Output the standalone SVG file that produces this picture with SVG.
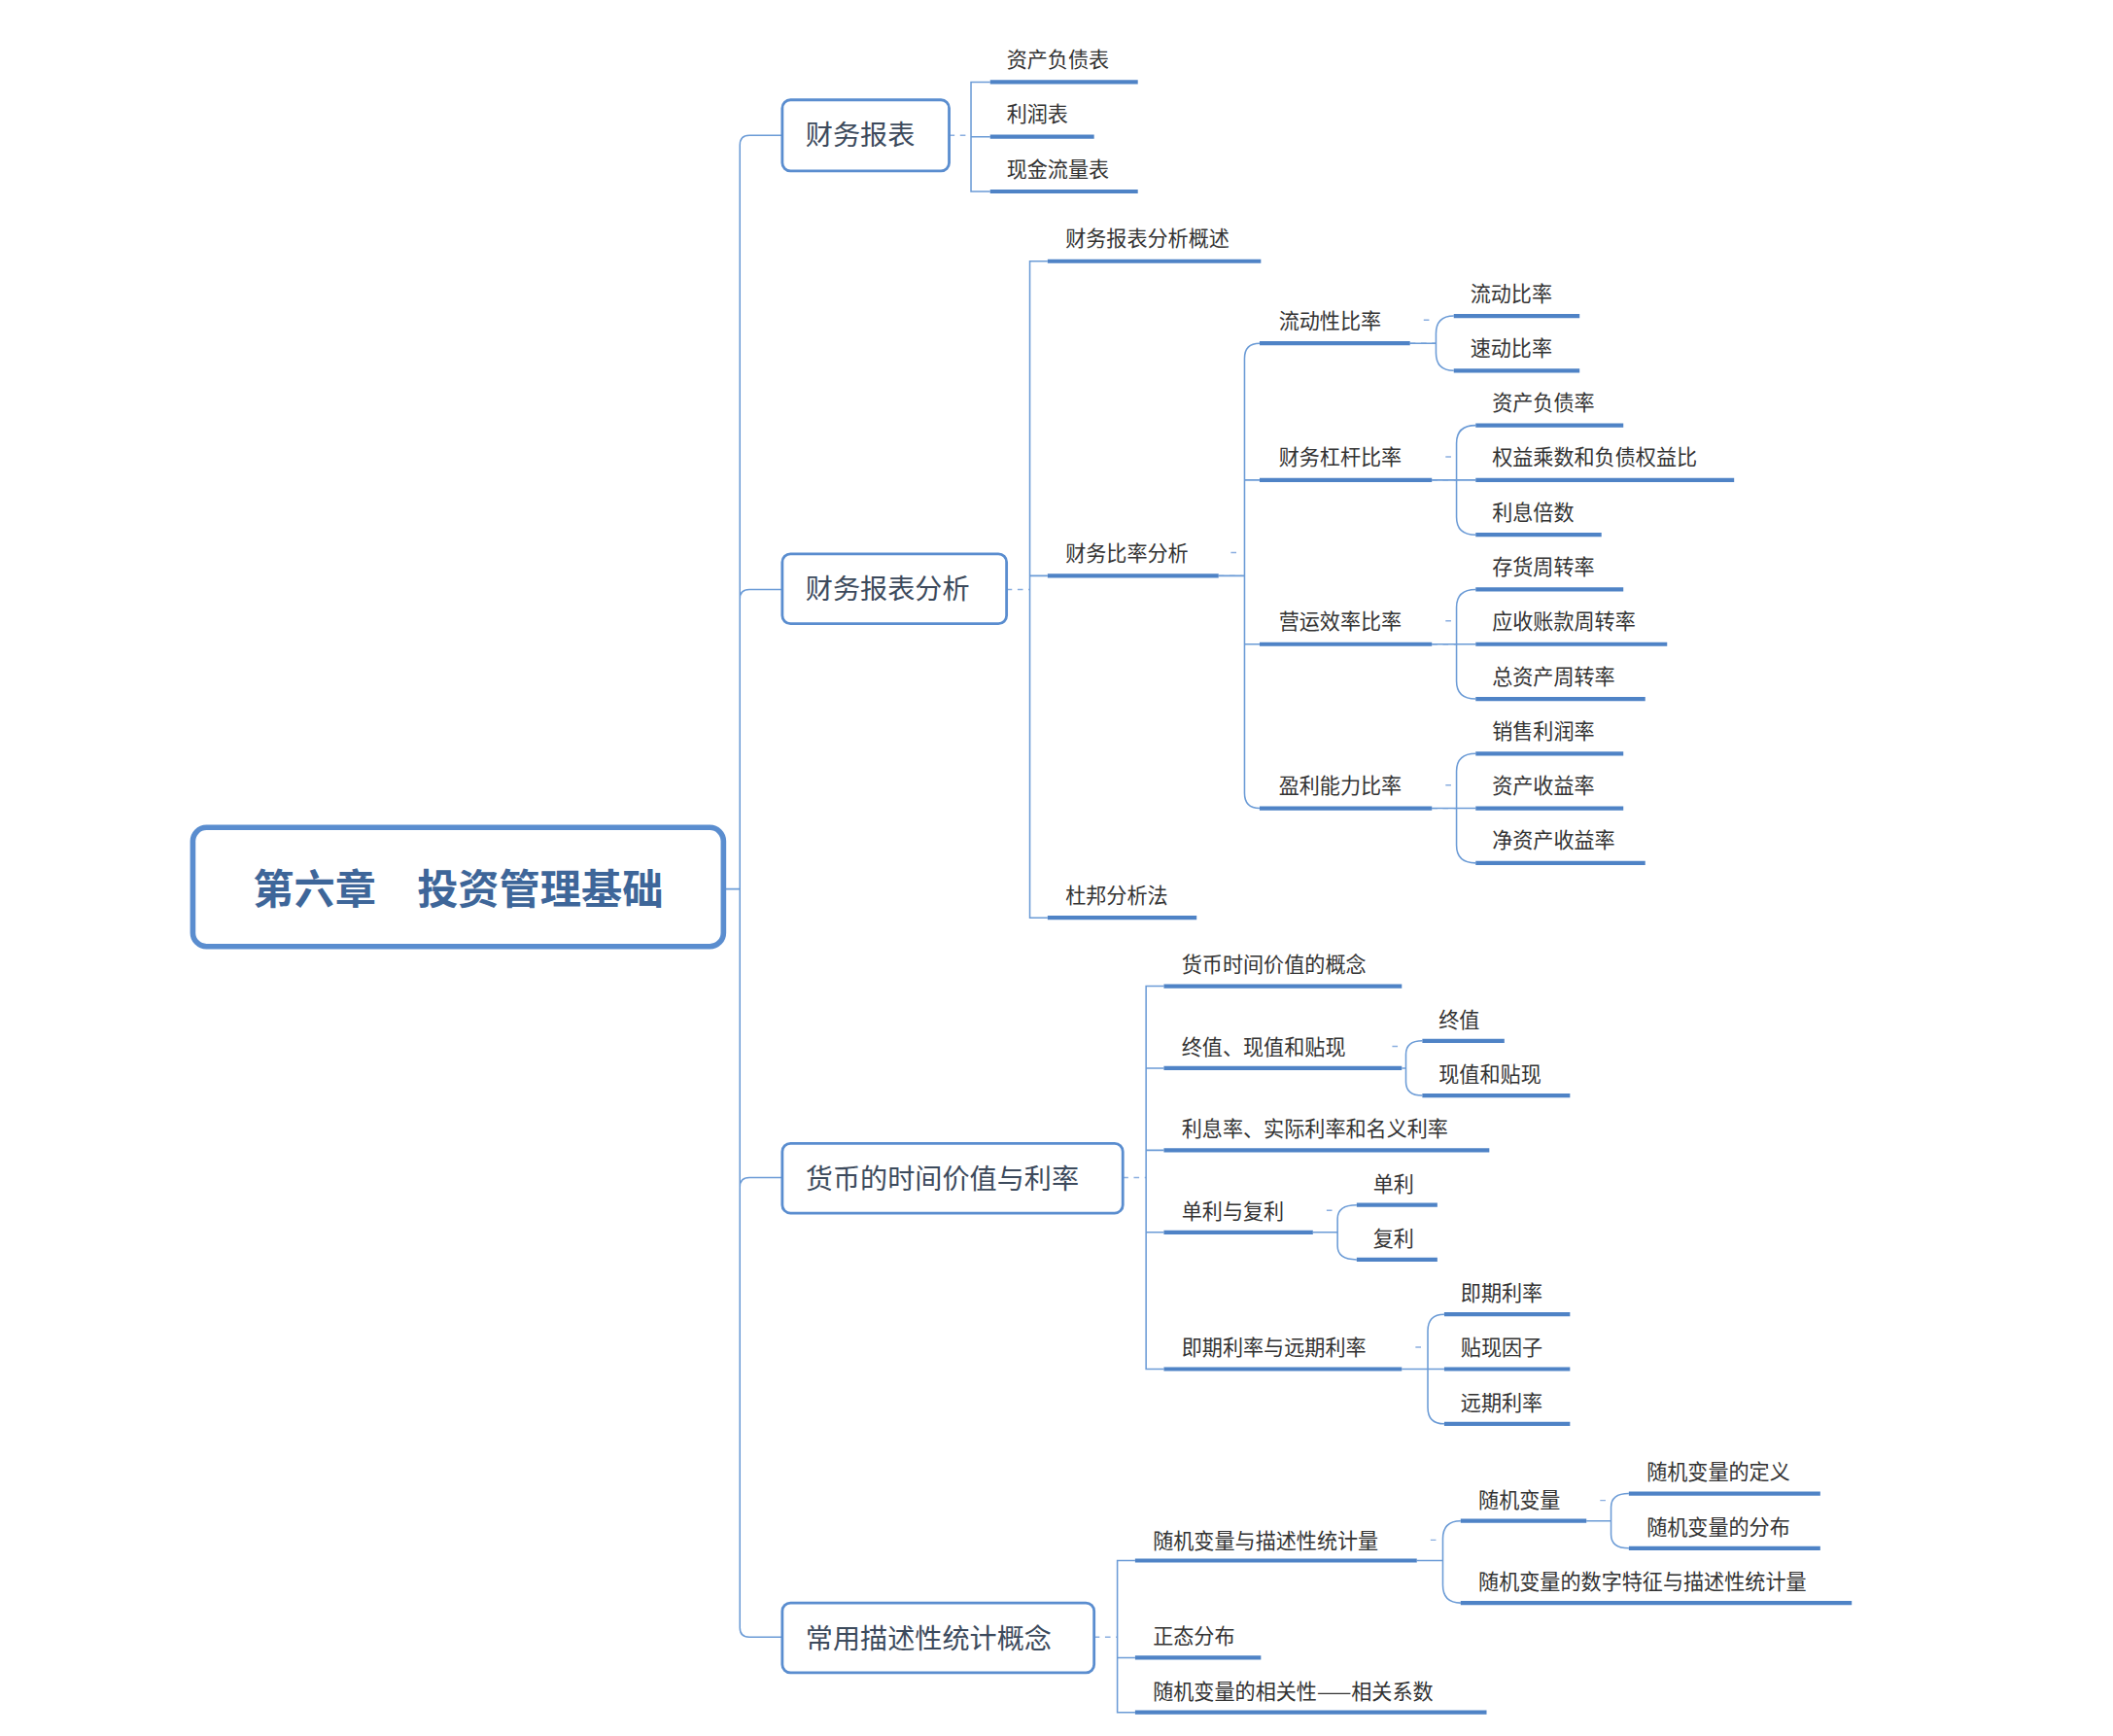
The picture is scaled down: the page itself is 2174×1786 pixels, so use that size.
<svg xmlns="http://www.w3.org/2000/svg" width="2174" height="1786" viewBox="0 0 2174 1786">
<style>
.c{fill:none;stroke:#6b9bd6;stroke-width:1.1}
.d{fill:none;stroke:#8aaee0;stroke-width:1;stroke-dasharray:4 4}
.u{stroke:#4f83c6;stroke-width:3}
.t{font-family:"Noto Sans CJK SC","Liberation Sans",sans-serif;font-size:15px;fill:#333}
.b{fill:#fff;stroke:#5a8dcf;stroke-width:2}
.bt{font-family:"Noto Sans CJK SC","Liberation Sans",sans-serif;font-size:20px;fill:#3c4a5c}
</style>
<rect width="2174" height="1786" fill="#fff"/>
<g transform="scale(1.4071)">
<g id="connectors">
<path class="c" d="M572,99 H548 Q541,99 541,106 V1190 Q541,1197 548,1197 H572 M572,431 H548 Q541,431 541,438 M572,861 H548 Q541,861 541,868 M529,650 H541"/>
<path class="d" d="M694,99 H710 M736,431 H753 M821,861 H838 M800,1197 H817 M891,421 H908 M900,404 h4 M1031,251 H1050 M1041,234 h4 M1047,351 H1065 M1047,471 H1065 M1047,591 H1065 M1057,334 h4 M1057,454 h4 M1057,574 h4 M1018,765 h4 M970,885 h4 M1035,985 h4 M1046,1126 h4 M1170,1097 h4"/>
<path class="c" d="M724,60 H710 V140 H724 M710,100 H724"/>
<path class="c" d="M766,191 H753 V671 H766 M753,421 H766"/>
<path class="c" d="M921,251 Q910,251 910,262 V580 Q910,591 921,591 M910,351 Q910,351 921,351 M910,471 H921 M891,421 H910"/>
<path class="c" d="M1031,251 H1050 M1063,231 Q1050,231 1050,244 V258 Q1050,271 1063,271"/>
<path class="c" d="M1047,351 H1079 M1079,311 Q1065,311 1065,324 V378 Q1065,391 1079,391"/>
<path class="c" d="M1047,471 H1079 M1079,431 Q1065,431 1065,444 V498 Q1065,511 1079,511"/>
<path class="c" d="M1047,591 H1079 M1079,551 Q1065,551 1065,564 V618 Q1065,631 1079,631"/>
<path class="c" d="M851,721 H838 V1001 H851 M838,781 H851 M838,841 H851 M838,901 H851"/>
<path class="c" d="M1025,781 H1028 M1040,761 Q1028,761 1028,771 V791 Q1028,801 1040,801"/>
<path class="c" d="M960,901 H978 M992,881 Q978,881 978,891 V911 Q978,921 992,921"/>
<path class="c" d="M1025,1001 H1056 M1056,961 Q1044,961 1044,973 V1029 Q1044,1041 1056,1041"/>
<path class="c" d="M830,1141 H817 V1252 H830 M817,1212 H830"/>
<path class="c" d="M1036,1141 H1055 M1068,1112 Q1055,1112 1055,1125 V1159 Q1055,1172 1068,1172"/>
<path class="c" d="M1160,1112 H1178 M1191,1092 Q1178,1092 1178,1102 V1122 Q1178,1132 1191,1132"/>
</g>
<g id="root"><rect x="141" y="605" width="388" height="87" rx="10" fill="#fff" stroke="#5a8dcf" stroke-width="4"/><text x="335" y="661" text-anchor="middle" font-family="'Noto Sans CJK SC','Liberation Sans',sans-serif" font-size="30" font-weight="bold" fill="#3e6699">第六章　投资管理基础</text></g>
<g id="n1"><rect class="b" x="572" y="73" width="122" height="52" rx="6"/><text class="bt" x="589" y="106">财务报表</text></g>
<g id="n2"><rect class="b" x="572" y="405" width="164" height="51" rx="6"/><text class="bt" x="589" y="438">财务报表分析</text></g>
<g id="n3"><rect class="b" x="572" y="836" width="249" height="51" rx="6"/><text class="bt" x="589" y="869">货币的时间价值与利率</text></g>
<g id="n4"><rect class="b" x="572" y="1172" width="228" height="51" rx="6"/><text class="bt" x="589" y="1205">常用描述性统计概念</text></g>
<g id="leaves">
<g id="l1"><line class="u" x1="724" y1="60" x2="832" y2="60"/><text class="t" x="736" y="49">资产负债表</text></g>
<g id="l2"><line class="u" x1="724" y1="100" x2="800" y2="100"/><text class="t" x="736" y="89">利润表</text></g>
<g id="l3"><line class="u" x1="724" y1="140" x2="832" y2="140"/><text class="t" x="736" y="129">现金流量表</text></g>
<g id="l4"><line class="u" x1="766" y1="191" x2="922" y2="191"/><text class="t" x="779" y="180">财务报表分析概述</text></g>
<g id="l5"><line class="u" x1="766" y1="421" x2="891" y2="421"/><text class="t" x="779" y="410">财务比率分析</text></g>
<g id="l6"><line class="u" x1="766" y1="671" x2="875" y2="671"/><text class="t" x="779" y="660">杜邦分析法</text></g>
<g id="l7"><line class="u" x1="921" y1="251" x2="1031" y2="251"/><text class="t" x="935" y="240">流动性比率</text></g>
<g id="l8"><line class="u" x1="921" y1="351" x2="1047" y2="351"/><text class="t" x="935" y="340">财务杠杆比率</text></g>
<g id="l9"><line class="u" x1="921" y1="471" x2="1047" y2="471"/><text class="t" x="935" y="460">营运效率比率</text></g>
<g id="l10"><line class="u" x1="921" y1="591" x2="1047" y2="591"/><text class="t" x="935" y="580">盈利能力比率</text></g>
<g id="l11"><line class="u" x1="1063" y1="231" x2="1155" y2="231"/><text class="t" x="1075" y="220">流动比率</text></g>
<g id="l12"><line class="u" x1="1063" y1="271" x2="1155" y2="271"/><text class="t" x="1075" y="260">速动比率</text></g>
<g id="l13"><line class="u" x1="1079" y1="311" x2="1187" y2="311"/><text class="t" x="1091" y="300">资产负债率</text></g>
<g id="l14"><line class="u" x1="1079" y1="351" x2="1268" y2="351"/><text class="t" x="1091" y="340">权益乘数和负债权益比</text></g>
<g id="l15"><line class="u" x1="1079" y1="391" x2="1171" y2="391"/><text class="t" x="1091" y="380">利息倍数</text></g>
<g id="l16"><line class="u" x1="1079" y1="431" x2="1187" y2="431"/><text class="t" x="1091" y="420">存货周转率</text></g>
<g id="l17"><line class="u" x1="1079" y1="471" x2="1219" y2="471"/><text class="t" x="1091" y="460">应收账款周转率</text></g>
<g id="l18"><line class="u" x1="1079" y1="511" x2="1203" y2="511"/><text class="t" x="1091" y="500">总资产周转率</text></g>
<g id="l19"><line class="u" x1="1079" y1="551" x2="1187" y2="551"/><text class="t" x="1091" y="540">销售利润率</text></g>
<g id="l20"><line class="u" x1="1079" y1="591" x2="1187" y2="591"/><text class="t" x="1091" y="580">资产收益率</text></g>
<g id="l21"><line class="u" x1="1079" y1="631" x2="1203" y2="631"/><text class="t" x="1091" y="620">净资产收益率</text></g>
<g id="l22"><line class="u" x1="851" y1="721" x2="1025" y2="721"/><text class="t" x="864" y="711">货币时间价值的概念</text></g>
<g id="l23"><line class="u" x1="851" y1="781" x2="1025" y2="781"/><text class="t" x="864" y="771">终值、现值和贴现</text></g>
<g id="l24"><line class="u" x1="1040" y1="761" x2="1100" y2="761"/><text class="t" x="1052" y="751">终值</text></g>
<g id="l25"><line class="u" x1="1040" y1="801" x2="1148" y2="801"/><text class="t" x="1052" y="791">现值和贴现</text></g>
<g id="l26"><line class="u" x1="851" y1="841" x2="1089" y2="841"/><text class="t" x="864" y="831">利息率、实际利率和名义利率</text></g>
<g id="l27"><line class="u" x1="851" y1="901" x2="960" y2="901"/><text class="t" x="864" y="891">单利与复利</text></g>
<g id="l28"><line class="u" x1="992" y1="881" x2="1051" y2="881"/><text class="t" x="1004" y="871">单利</text></g>
<g id="l29"><line class="u" x1="992" y1="921" x2="1051" y2="921"/><text class="t" x="1004" y="911">复利</text></g>
<g id="l30"><line class="u" x1="851" y1="1001" x2="1025" y2="1001"/><text class="t" x="864" y="991">即期利率与远期利率</text></g>
<g id="l31"><line class="u" x1="1056" y1="961" x2="1148" y2="961"/><text class="t" x="1068" y="951">即期利率</text></g>
<g id="l32"><line class="u" x1="1056" y1="1001" x2="1148" y2="1001"/><text class="t" x="1068" y="991">贴现因子</text></g>
<g id="l33"><line class="u" x1="1056" y1="1041" x2="1148" y2="1041"/><text class="t" x="1068" y="1031">远期利率</text></g>
<g id="l34"><line class="u" x1="830" y1="1141" x2="1036" y2="1141"/><text class="t" x="843" y="1132">随机变量与描述性统计量</text></g>
<g id="l35"><line class="u" x1="1068" y1="1112" x2="1160" y2="1112"/><text class="t" x="1081" y="1102">随机变量</text></g>
<g id="l36"><line class="u" x1="1068" y1="1172" x2="1354" y2="1172"/><text class="t" x="1081" y="1162">随机变量的数字特征与描述性统计量</text></g>
<g id="l37"><line class="u" x1="1191" y1="1092" x2="1331" y2="1092"/><text class="t" x="1204" y="1082">随机变量的定义</text></g>
<g id="l38"><line class="u" x1="1191" y1="1132" x2="1331" y2="1132"/><text class="t" x="1204" y="1122">随机变量的分布</text></g>
<g id="l39"><line class="u" x1="830" y1="1212" x2="922" y2="1212"/><text class="t" x="843" y="1202">正态分布</text></g>
<g id="l40"><line class="u" x1="830" y1="1252" x2="1087" y2="1252"/><text class="t" x="843" y="1242">随机变量的相关性——相关系数</text></g>
</g>
</g>
</svg>
